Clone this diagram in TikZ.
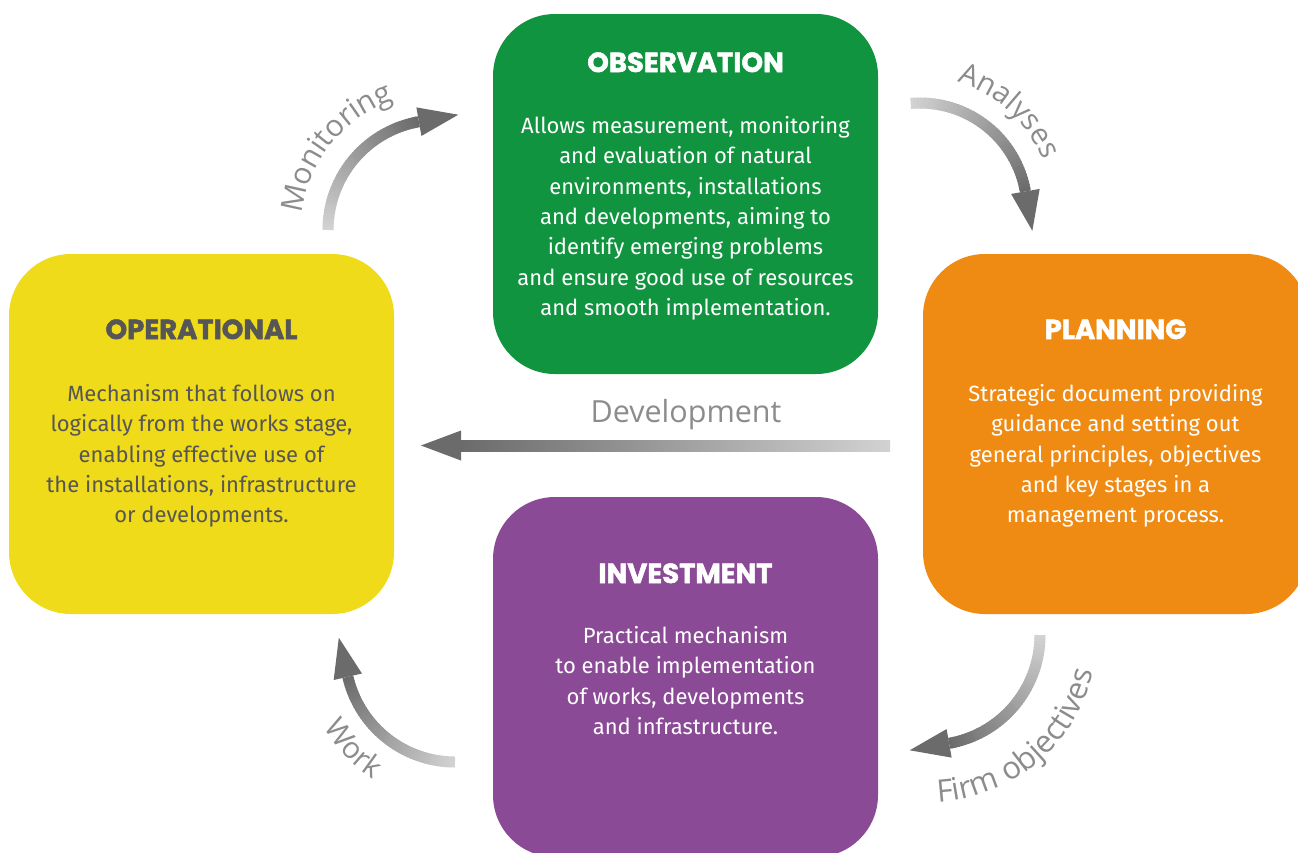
\documentclass[tikz,border=0pt]{standalone}
\usepackage{fontspec}
\usetikzlibrary{calc,decorations.text}
\newfontfamily\bodyfont{Fira Sans}
\newfontfamily\labfont{Open Sans}
\newfontfamily\headfont{Poppins}[BoldFeatures={FakeBold=1.8}]
\definecolor{cgreen}{HTML}{11943F}
\definecolor{corange}{HTML}{EF8A12}
\definecolor{cyellow}{HTML}{EFDB19}
\definecolor{cpurple}{HTML}{8A4A96}
\definecolor{darktext}{HTML}{565656}
\definecolor{labgray}{HTML}{8C8C8C}
\definecolor{arrdark}{HTML}{6B6B6B}
\definecolor{arrlight}{HTML}{D2D2D2}
\tikzset{
  stagebox/.style={rounded corners=62pt, minimum width=385pt, minimum height=360pt, inner sep=0pt, draw=none},
  stagetitle/.style={font=\headfont\bfseries\fontsize{27.5}{28}\selectfont, anchor=base, inner sep=0pt},
  stagebody/.style={font=\bodyfont\fontsize{22}{30.3}\selectfont, align=center, anchor=base, inner sep=0pt},
  flowlabel/.style={font=\labfont\fontsize{30.5}{30.5}\selectfont, text=labgray, inner sep=0pt, anchor=base}
}
\newcommand\gradarc[4]{%
  \foreach \i in {0,...,47}{%
    \pgfmathsetmacro\aa{#3+(#4-#3)*\i/48}%
    \pgfmathsetmacro\bb{#3+(#4-#3)*min(\i+1.4,48)/48}%
    \pgfmathtruncatemacro\pp{100*\i/47}%
    \draw[line width=11pt, draw=arrdark!\pp!arrlight] ($(#1)+(\aa:#2pt)$) arc[start angle=\aa, end angle=\bb, radius=#2pt];
  }%
  \fill[arrdark] ($(#1)+(#4:#2pt+14.5pt)$) -- ($(#1)+(#4:#2pt-14.5pt)$) -- ($(#1)+(#4:#2pt)+(#4-90:40pt)$) -- cycle;
}
\begin{document}
\begin{tikzpicture}[x=1pt,y=1pt]
\useasboundingbox (0,0) rectangle (1298,-852);
\fill[white] (0,0) rectangle (1298,-852);
\begin{scope}
\clip (0,0) rectangle (1298,-852);
\node[stagebox, fill=cgreen] (obs) at (685.5,-194) {};
\node[stagebox, fill=corange] (plan) at (1115.5,-434) {};
\node[stagebox, fill=cyellow] (oper) at (201.5,-434) {};
\node[stagebox, fill=cpurple] (inv) at (685.5,-677) {};
\end{scope}

% titles
\node[stagetitle, text=white] (obs-t) at (685.5,-72) {OBSERVATION};
\node[stagetitle, text=white] (plan-t) at (1115.5,-339) {PLANNING};
\node[stagetitle, text=darktext] (oper-t) at (201.5,-339) {OPERATIONAL};
\node[stagetitle, text=white] (inv-t) at (685.5,-583) {INVESTMENT};

% bodies (base anchor = baseline of last line)
\node[stagebody, text=white] (obs-b) at (685.5,-315.3) {Allows measurement, monitoring\\and evaluation of natural\\environments, installations\\and developments, aiming to\\identify emerging problems\\and ensure good use of resources\\and smooth implementation.};
\node[stagebody, text=white] (plan-b) at (1115.5,-522.7) {Strategic document providing\\guidance and setting out\\general principles, objectives\\and key stages in a\\management process.};
\node[stagebody, text=darktext] (oper-b) at (201.5,-522.7) {Mechanism that follows on\\logically from the works stage,\\enabling effective use of\\the installations, infrastructure\\or developments.};
\node[stagebody, text=white] (inv-b) at (685.5,-734.4) {Practical mechanism\\to enable implementation\\of works, developments\\and infrastructure.};

% curved arrows
\coordinate (monc) at (438,-230);
\coordinate (anac) at (920,-210);
\coordinate (firmc) at (930,-635);
\coordinate (workc) at (455,-652);
\gradarc{monc}{110}{180}{100}
\gradarc{anac}{107}{95}{10}
\gradarc{firmc}{110}{0}{-80}
\gradarc{workc}{110}{270}{193}

% curved labels
\path[decorate, decoration={text along path, text={|\labfont\fontsize{30}{30}\selectfont|Monitoring}, text align=center, text color=labgray}]
  ($(monc)+(195:137pt)$) arc[start angle=195, end angle=87, radius=137pt];
\path[decorate, decoration={text along path, text={|\labfont\fontsize{29.5}{29.5}\selectfont|Analyses}, text align=center, text color=labgray}]
  ($(anac)+(100:133pt)$) arc[start angle=100, end angle=-4, radius=133pt];
\path[decorate, decoration={text along path, text={|\labfont\fontsize{31}{31}\selectfont|Firm objectives}, text align=center, text color=labgray}]
  ($(firmc)+(-106:167pt)$) arc[start angle=-106, end angle=6, radius=167pt];
\path[decorate, decoration={text along path, text={|\labfont\fontsize{29.5}{29.5}\selectfont|Work}, text align=center, text color=labgray}]
  ($(workc)+(190:151pt)$) arc[start angle=190, end angle=257, radius=151pt];

% development arrow
\coordinate (devR) at (890,-445.5);
\coordinate (devL) at (421,-445.5);
\shade[left color=arrdark, right color=arrlight] ($(devL)+(40,5.5)$) rectangle ($(devR)+(0,-5.5)$);
\fill[arrdark] (devL) -- ($(devL)+(40,15)$) -- ($(devL)+(40,-15)$) -- cycle;
\node[flowlabel] (dev-l) at (686,-422) {Development};
\end{tikzpicture}
\end{document}
